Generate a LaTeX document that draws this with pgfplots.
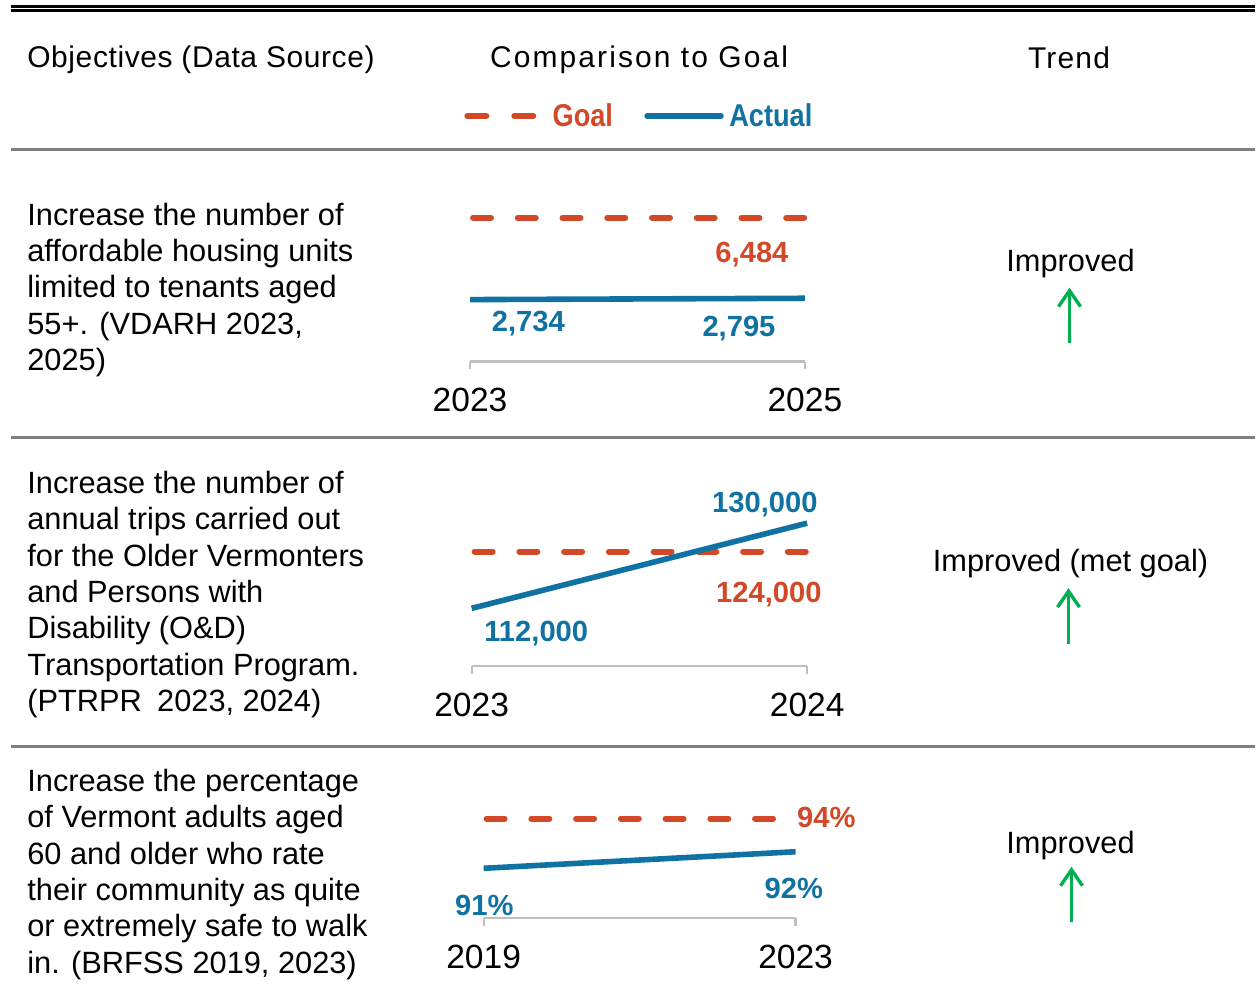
\documentclass[border=0pt]{standalone}
\usepackage{pgfplots}
\pgfplotsset{compat=1.18}
\usepackage{fontspec}
\setmainfont{Liberation Sans}
\usetikzlibrary{arrows.meta}
\definecolor{goalred}{RGB}{211,72,38}
\definecolor{actblue}{RGB}{16,114,163}
\definecolor{arrgreen}{RGB}{0,176,80}
\definecolor{rulegray}{RGB}{128,128,128}
\definecolor{brgray}{RGB}{191,191,191}
\newcommand{\body}{\fontsize{15.4}{18}\selectfont}
\newcommand{\val}{\fontsize{14.6}{16}\selectfont\bfseries}
\newcommand{\yr}{\fontsize{16.8}{18}\selectfont}
\newcommand{\hdr}{\fontsize{15}{18}\selectfont}
\pgfplotsset{
 minichart/.style={
  scale only axis, clip=false,
  axis x line*=bottom, hide y axis,
  x axis line style={draw=brgray, line width=1.1pt, -},
  xtick style={draw=brgray, line width=1.1pt},
  major tick length=4pt, tick align=outside,
  xticklabel style={font=\yr, anchor=base, yshift=-21.2pt, inner sep=0pt},
  ytick=\empty,
  anchor=south west,
 },
 goal/.style={goalred, line width=3pt, line cap=round, dash pattern=on 9pt off 13.4pt, dash phase=20.9pt},
 actual/.style={actblue, line width=2.8pt},
}
\begin{document}
\begin{tikzpicture}
% ---- mini chart 1
\begin{axis}[minichart, at={(235.35pt,-181pt)}, width=167.65pt, height=72pt,
  xmin=2023, xmax=2025, ymin=-100, ymax=6484,
  xtick={2023,2025}, xticklabels={2023,2025}]
\addplot[goal] coordinates {(2023,6484) (2025,6484)};
\addplot[actual] coordinates {(2023,2734) (2025,2795)};
\end{axis}
% ---- mini chart 2
\begin{axis}[minichart, at={(236.15pt,-333.5pt)}, width=168pt, height=71.56pt,
  xmin=2023, xmax=2024, ymin=99800, ymax=130000,
  xtick={2023,2024}, xticklabels={2023,2024}]
\addplot[goal] coordinates {(2023,124000) (2024,124000)};
\addplot[actual] coordinates {(2023,112000) (2024,130000)};
\end{axis}
% ---- mini chart 3
\begin{axis}[minichart, at={(242.15pt,-459.65pt)}, width=156.2pt, height=49.8pt,
  xmin=2019, xmax=2023, ymin=88, ymax=94,
  xtick={2019,2023}, xticklabels={2019,2023}]
\addplot[goal] coordinates {(2019,94) (2023,94)};
\addplot[actual] coordinates {(2019,91) (2023,92)};
\end{axis}

\begin{scope}[x=0.5pt,y=-0.5pt]
\path (0,0) rectangle (1257,1000);
% rules
\draw[line width=1.5pt] (11,6.5) -- (1257,6.5);
\draw[line width=1.35pt] (11,10.7) -- (1257,10.7);
\draw[rulegray, line width=1.75pt] (11,149.7) -- (1257,149.7);
\draw[rulegray, line width=1.5pt] (11,438) -- (1257,438);
\draw[rulegray, line width=1.5pt] (11,748) -- (1257,748);
% headers
\node[anchor=base west, inner sep=0] at (27,68) {\hdr\addfontfeature{LetterSpace=2}Objectives (Data Source)};
\node[anchor=base, inner sep=0] at (640,68) {\hdr\addfontfeature{LetterSpace=7}Comparison to Goal};
\node[anchor=base, inner sep=0] at (1070.5,69) {\hdr\addfontfeature{LetterSpace=4}Trend};
% legend
\draw[goalred, line width=3pt, line cap=round] (468,116)--(487,116) (515,116)--(534,116);
\draw[actblue, line width=2.8pt, line cap=round] (648,116)--(722,116);
\node[anchor=base west, inner sep=0, text=goalred] at (553,127) {\scalebox{0.86}[1]{\fontsize{15.8}{16}\selectfont\bfseries Goal}};
\node[anchor=base west, inner sep=0, text=actblue] at (730,127) {\scalebox{0.86}[1]{\fontsize{15.8}{16}\selectfont\bfseries Actual}};
% row 1 text
\node[anchor=base west, inner sep=0] at (27,226) {\body Increase the number of};
\node[anchor=base west, inner sep=0] at (27,262) {\body affordable housing units};
\node[anchor=base west, inner sep=0] at (27,298) {\body limited to tenants aged};
\node[anchor=base west, inner sep=0] at (27,335) {\body 55+. (VDARH 2023,};
\node[anchor=base west, inner sep=0] at (27,371) {\body 2025)};
% row 2 text
\node[anchor=base west, inner sep=0] at (27,494) {\body Increase the number of};
\node[anchor=base west, inner sep=0] at (27,530) {\body annual trips carried out};
\node[anchor=base west, inner sep=0] at (27,567) {\body for the Older Vermonters};
\node[anchor=base west, inner sep=0] at (27,603) {\body and Persons with};
\node[anchor=base west, inner sep=0] at (27,639) {\body Disability (O\&D)};
\node[anchor=base west, inner sep=0] at (27,676) {\body Transportation Program.};
\node[anchor=base west, inner sep=0] at (27,712) {\body (PTRPR\hspace{0.5em}2023, 2024)};
% row 3 text
\node[anchor=base west, inner sep=0] at (27,793) {\body Increase the percentage};
\node[anchor=base west, inner sep=0] at (27,829) {\body of Vermont adults aged};
\node[anchor=base west, inner sep=0] at (27,866) {\body 60 and older who rate};
\node[anchor=base west, inner sep=0] at (27,902) {\body their community as quite};
\node[anchor=base west, inner sep=0] at (27,938) {\body or extremely safe to walk};
\node[anchor=base west, inner sep=0] at (27,975) {\body in. (BRFSS 2019, 2023)};
% value labels
\node[anchor=base, inner sep=0, text=goalred] at (753,263) {\val 6,484};
\node[anchor=base, inner sep=0, text=actblue] at (529,332) {\val 2,734};
\node[anchor=base, inner sep=0, text=actblue] at (740,337) {\val 2,795};
\node[anchor=base, inner sep=0, text=actblue] at (766,513) {\val 130,000};
\node[anchor=base, inner sep=0, text=goalred] at (770,603) {\val 124,000};
\node[anchor=base, inner sep=0, text=actblue] at (537,642) {\val 112,000};
\node[anchor=base, inner sep=0, text=goalred] at (827.5,829) {\val 94\%};
\node[anchor=base, inner sep=0, text=actblue] at (795,900) {\val 92\%};
\node[anchor=base, inner sep=0, text=actblue] at (485,917) {\val 91\%};
% trend
\node[anchor=base, inner sep=0] at (1072,272) {\body Improved};
\node[anchor=base, inner sep=0] at (1072,572) {\body Improved (met goal)};
\node[anchor=base, inner sep=0] at (1072,855) {\body Improved};
\draw[arrgreen, line width=1.7pt, -{Straight Barb[length=8pt,width=11pt]}] (1071,343)--(1071,288);
\draw[arrgreen, line width=1.7pt, -{Straight Barb[length=8pt,width=11pt]}] (1070,645)--(1070,589);
\draw[arrgreen, line width=1.7pt, -{Straight Barb[length=8pt,width=11pt]}] (1073,923)--(1073,868);
\end{scope}
\end{tikzpicture}
\end{document}
